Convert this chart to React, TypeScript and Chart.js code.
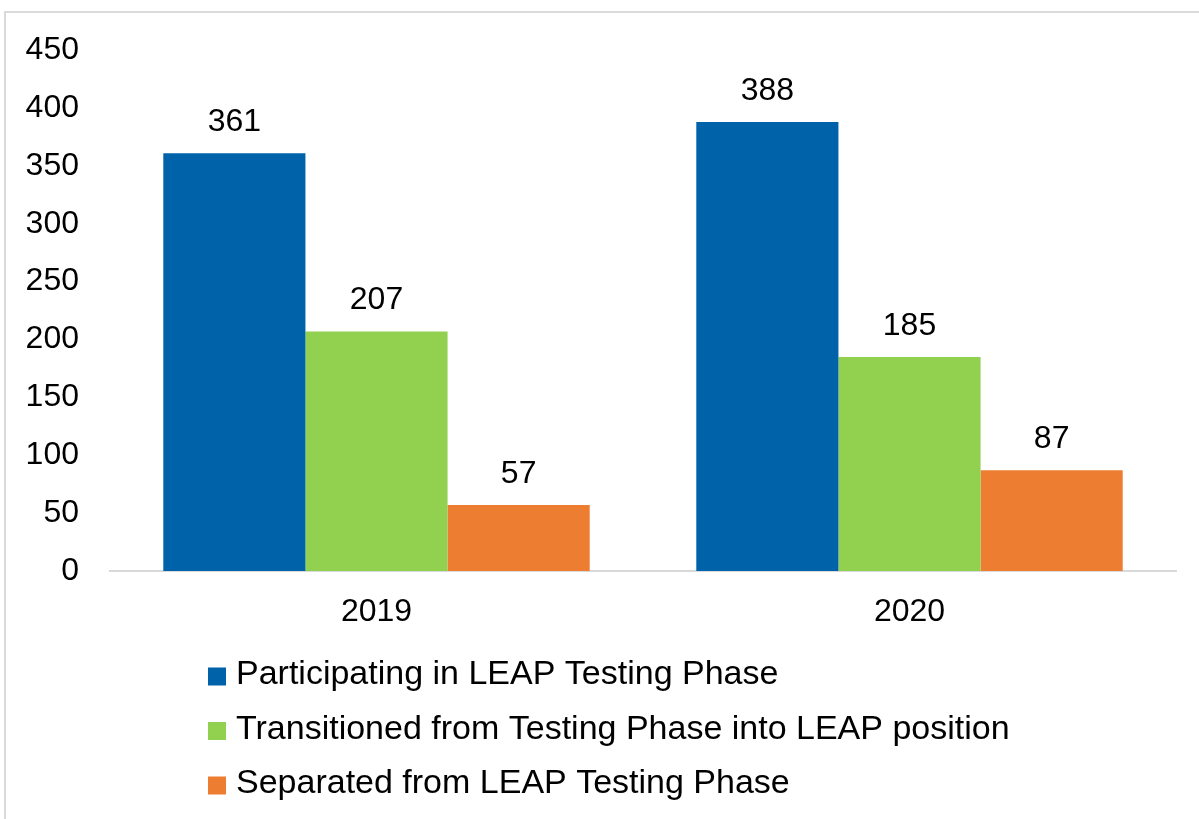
import React, { useEffect, useRef } from "react";
import { Chart, registerables } from "chart.js";

Chart.register(...registerables);

const FONT = '"Liberation Sans", Arial, Helvetica, sans-serif';

const categories = ["2019", "2020"];
const participating = [361, 388];
const transitioned = [207, 185];
const separated = [57, 87];
const seriesLabels = [
  "Participating in LEAP Testing Phase",
  "Transitioned from Testing Phase into LEAP position",
  "Separated from LEAP Testing Phase",
];
const seriesColors = ["#0063AA", "#92D050", "#ED7D31"];
const yMin = 0;
const yMax = 450;
const yStep = 50;

const valueLabelPlugin = {
  id: "valueLabels",
  afterDatasetsDraw(chart: any) {
    const ctx = chart.ctx;
    ctx.save();
    ctx.font = `32px ${FONT}`;
    ctx.fillStyle = "#000";
    ctx.textAlign = "center";
    ctx.textBaseline = "middle";
    chart.data.datasets.forEach((ds: any, i: number) => {
      const meta = chart.getDatasetMeta(i);
      meta.data.forEach((bar: any, j: number) => {
        ctx.fillText(String(ds.data[j]), bar.x, bar.y - 31);
      });
    });
    ctx.restore();
  },
};

const listLegendPlugin = {
  id: "listLegend",
  afterDraw(chart: any) {
    const ctx = chart.ctx;
    ctx.save();
    ctx.font = `34px ${FONT}`;
    ctx.textBaseline = "middle";
    ctx.textAlign = "left";
    const x0 = 208;
    const yStart = 675;
    const rowGap = 54.5;
    chart.data.datasets.forEach((ds: any, i: number) => {
      const y = yStart + i * rowGap;
      ctx.fillStyle = ds.backgroundColor;
      ctx.fillRect(x0, y - 7.5, 18, 18);
      ctx.fillStyle = "#000";
      ctx.fillText(ds.label, x0 + 28, y);
    });
    ctx.restore();
  },
};

export default function App() {
  const canvasRef = useRef<HTMLCanvasElement | null>(null);

  useEffect(() => {
    if (!canvasRef.current) return;
    const seriesValues = [participating, transitioned, separated];
    const chart = new Chart(canvasRef.current, {
      type: "bar",
      data: {
        labels: categories,
        datasets: seriesValues.map((vals, i) => ({
          label: seriesLabels[i],
          data: vals,
          backgroundColor: seriesColors[i],
          borderWidth: 0,
          categoryPercentage: 0.8,
          barPercentage: 1.0,
        })),
      },
      options: {
        animation: false,
        responsive: true,
        maintainAspectRatio: false,
        layout: { padding: { left: 10, right: 23, top: 45, bottom: 178 } },
        plugins: {
          legend: { display: false },
          tooltip: { enabled: false },
          title: { display: false },
        },
        scales: {
          x: {
            grid: { display: false, drawTicks: false },
            border: { display: true, color: "#d9d9d9", width: 2 },
            ticks: {
              color: "#000",
              font: { family: FONT, size: 32 },
              padding: 22,
            },
            afterFit(scale: any) {
              scale.height = 70;
            },
          },
          y: {
            min: yMin,
            max: yMax,
            grid: { display: false, drawTicks: false },
            border: { display: false },
            ticks: {
              stepSize: yStep,
              color: "#000",
              font: { family: FONT, size: 32 },
              padding: 31,
            },
            afterFit(scale: any) {
              scale.width = 100;
            },
          },
        },
      },
      plugins: [valueLabelPlugin, listLegendPlugin],
    });
    return () => chart.destroy();
  }, []);

  return (
    <div
      style={{
        position: "absolute",
        left: 0,
        top: 0,
        width: 1199,
        height: 819,
        overflow: "hidden",
        background: "#fff",
      }}
    >
      <div
        style={{
          position: "absolute",
          left: 4,
          top: 11,
          width: 2000,
          height: 2000,
          borderLeft: "2px solid #dadada",
          borderTop: "2px solid #dadada",
        }}
      />
      <div style={{ position: "absolute", left: 0, top: 0, width: 1199, height: 819 }}>
        <canvas ref={canvasRef} />
      </div>
    </div>
  );
}
